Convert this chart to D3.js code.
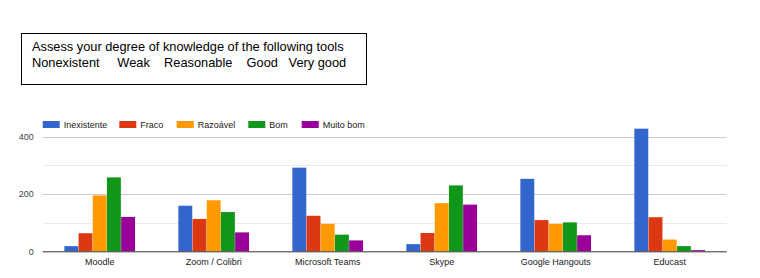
<!DOCTYPE html>
<html><head><meta charset="utf-8">
<script src="https://cdn.jsdelivr.net/npm/d3@7"></script>
<style>body{margin:0;background:#fff}svg{display:block}</style>
</head><body>
<svg id="c" width="760" height="278"></svg>
<script>
const categories = ["Moodle","Zoom / Colibri","Microsoft Teams","Skype","Google Hangouts","Educast"];
const seriesNames = ["Inexistente","Fraco","Razoável","Bom","Muito bom"];
const inexistente = [18,159,292,25,253,428];
const fraco = [63,113,124,64,109,119];
const razoavel = [195,178,96,168,96,41];
const bom = [258,137,58,230,101,18];
const muitoBom = [120,66,38,163,56,4];
const yTicks = [0,200,400];
const yMinor = [100,300];
const titleLines = ["Assess your degree of knowledge of the following tools","Nonexistent     Weak    Reasonable    Good   Very good"];

(function(){
const series = [inexistente,fraco,razoavel,bom,muitoBom];
const colors = ["#3366cc","#dc3912","#ff9900","#109618","#990099"];
const svg = d3.select("#c");
const font = "Arial, 'Liberation Sans', sans-serif";

// title box
svg.append("rect").attr("x",21.5).attr("y",33.5).attr("width",345).attr("height",51)
  .attr("fill","#fff").attr("stroke","#000").attr("stroke-width",1);
svg.selectAll(".tl").data(titleLines).join("text")
  .attr("x",32).attr("y",(d,i)=>50.5+i*16).attr("font-family",font).attr("font-size",12.8)
  .attr("fill","#000").style("white-space","pre").text(d=>d);

const pLeft=42.7, pRight=726.7, base=251.3, pTop=136.7;
const x = d3.scaleBand().domain(categories).range([pLeft,pRight]).paddingInner(0.38).paddingOuter(0.19);
const xs = d3.scaleBand().domain(seriesNames).range([0,x.bandwidth()]).paddingInner(0.02);
const y = d3.scaleLinear().domain([0,400]).range([base,pTop]);

const g = svg.append("g");
g.selectAll(".minor").data(yMinor).join("line")
  .attr("x1",pLeft).attr("x2",pRight).attr("y1",d=>Math.round(y(d))+0.5).attr("y2",d=>Math.round(y(d))+0.5)
  .attr("stroke","#ebebeb");
g.selectAll(".major").data(yTicks.filter(d=>d>0)).join("line")
  .attr("x1",pLeft).attr("x2",pRight).attr("y1",d=>Math.round(y(d))+0.5).attr("y2",d=>Math.round(y(d))+0.5)
  .attr("stroke","#cccccc");

const yAxis = d3.axisLeft(y).tickValues(yTicks).tickSize(0).tickPadding(9);
svg.append("g").attr("transform",`translate(${pLeft},0)`).call(yAxis)
  .call(a=>a.select(".domain").remove())
  .selectAll("text").attr("font-family",font).attr("font-size",9).attr("fill","#444");

categories.forEach((c,ci)=>{
  svg.append("g").selectAll("rect").data(series.map((s,si)=>({v:s[ci],si}))).join("rect")
    .attr("x",d=>x(c)+xs(seriesNames[d.si]))
    .attr("width",xs.bandwidth())
    .attr("y",d=>y(d.v)).attr("height",d=>base-y(d.v))
    .attr("fill",d=>colors[d.si]);
});

svg.append("line").attr("x1",pLeft).attr("x2",pRight).attr("y1",base+0.5).attr("y2",base+0.5)
  .attr("stroke","#333").attr("stroke-width",1);

const xAxis = d3.axisBottom(x).tickSize(0).tickPadding(7);
svg.append("g").attr("transform",`translate(0,${base})`).call(xAxis)
  .call(a=>a.select(".domain").remove())
  .selectAll("text").attr("font-family",font).attr("font-size",9).attr("fill","#222");

// legend
const legX=[42.7,119.3,176.7,248.3,301.7];
const lg = svg.append("g").selectAll("g").data(seriesNames).join("g")
  .attr("transform",(d,i)=>`translate(${legX[i]},121)`);
lg.append("rect").attr("width",17).attr("height",7).attr("fill",(d,i)=>colors[i]);
lg.append("text").attr("x",21).attr("y",7.3).attr("font-family",font).attr("font-size",9)
  .attr("fill","#222").text(d=>d);
})();
</script>
</body></html>
